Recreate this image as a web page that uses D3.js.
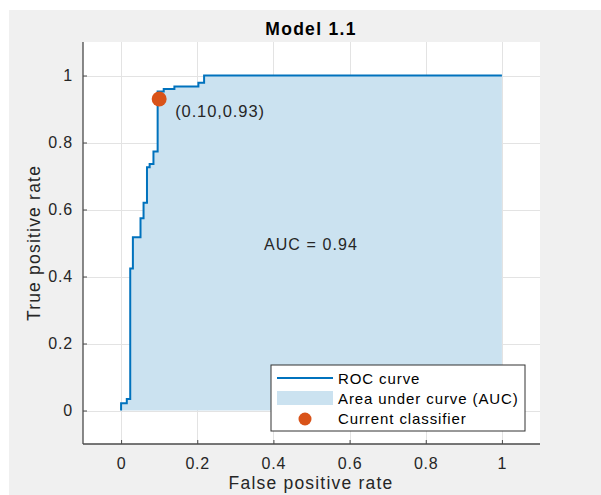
<!DOCTYPE html>
<html>
<head>
<meta charset="utf-8">
<script src="https://cdn.jsdelivr.net/npm/d3@7"></script>
<style>
  html, body { margin: 0; padding: 0; background: #ffffff; }
  svg { display: block; font-family: "Liberation Sans", Arial, Helvetica, sans-serif; }
</style>
</head>
<body>
<svg id="chart" width="601" height="495"></svg>
<script>
// ROC curve vertices (staircase), false positive rate vs true positive rate
const fpr = [0, 0, 0.015, 0.015, 0.024, 0.024, 0.031, 0.031, 0.051, 0.051, 0.059, 0.059,
             0.068, 0.068, 0.075, 0.075, 0.085, 0.085, 0.096, 0.096, 0.112, 0.112,
             0.140, 0.140, 0.203, 0.203, 0.218, 0.218, 1];
const tpr = [0, 0.022, 0.022, 0.034, 0.034, 0.424, 0.424, 0.517, 0.517, 0.574, 0.574, 0.620,
             0.620, 0.726, 0.726, 0.736, 0.736, 0.773, 0.773, 0.952, 0.952, 0.960,
             0.960, 0.967, 0.967, 0.978, 0.978, 1, 1];
const classifier = { fpr: 0.10, tpr: 0.93 };
const aucValue = 0.94;
const xTicks = [0, 0.2, 0.4, 0.6, 0.8, 1];
const yTicks = [0, 0.2, 0.4, 0.6, 0.8, 1];
const legendLabels = ["ROC curve", "Area under curve (AUC)", "Current classifier"];

const svg = d3.select("#chart");
const lineBlue = "#0072BD", fillBlue = "#cbe2f0", dotOrange = "#D95319";
const axisColor = "#4a4a4a", textColor = "#262626";

// figure background
svg.append("rect").attr("x", 9).attr("y", 10).attr("width", 592).attr("height", 485).attr("fill", "#f0f0f0");

const x = d3.scaleLinear().domain([-0.1, 1.1]).range([83, 540]);
const y = d3.scaleLinear().domain([-0.1, 1.1]).range([444, 42]);

// plot area
svg.append("rect").attr("x", x(-0.1)).attr("y", y(1.1))
  .attr("width", x(1.1) - x(-0.1)).attr("height", y(-0.1) - y(1.1)).attr("fill", "#ffffff");

// grid
const grid = svg.append("g").attr("stroke", "#e3e3e3").attr("stroke-width", 1);
xTicks.forEach(t => grid.append("line").attr("x1", Math.round(x(t)) + 0.5).attr("x2", Math.round(x(t)) + 0.5)
  .attr("y1", y(1.1)).attr("y2", y(-0.1)));
yTicks.forEach(t => grid.append("line").attr("y1", Math.round(y(t)) + 0.5).attr("y2", Math.round(y(t)) + 0.5)
  .attr("x1", x(-0.1)).attr("x2", x(1.1)));

const pts = fpr.map((f, i) => [f, tpr[i]]);

// area under curve
const area = d3.area().x(d => x(d[0])).y0(y(0)).y1(d => y(d[1]));
svg.append("path").datum(pts).attr("d", area).attr("fill", fillBlue);

// ROC curve
const line = d3.line().x(d => x(d[0])).y(d => y(d[1]));
svg.append("path").datum(pts).attr("d", line).attr("fill", "none")
  .attr("stroke", lineBlue).attr("stroke-width", 2).attr("stroke-linejoin", "miter");

// current classifier
svg.append("circle").attr("cx", x(classifier.fpr)).attr("cy", y(classifier.tpr)).attr("r", 7.5).attr("fill", dotOrange);
svg.append("text").attr("x", x(classifier.fpr) + 16).attr("y", y(classifier.tpr) + 18)
  .attr("font-size", 16.5).attr("letter-spacing", 0.9).attr("fill", textColor)
  .text(`(${classifier.fpr.toFixed(2)},${classifier.tpr.toFixed(2)})`);

svg.append("text").attr("x", x(0.375)).attr("y", y(0.48))
  .attr("font-size", 16).attr("letter-spacing", 1.1).attr("fill", textColor).text(`AUC = ${aucValue.toFixed(2)}`);

// axes (ticks pointing inward)
const xAxis = d3.axisBottom(x).tickValues(xTicks).tickSize(-4).tickPadding(14)
  .tickFormat(d => d3.format("~g")(d));
const gx = svg.append("g").attr("transform", `translate(0,${y(-0.1)})`).call(xAxis);
const yAxis = d3.axisLeft(y).tickValues(yTicks).tickSize(-4).tickPadding(10)
  .tickFormat(d => d3.format("~g")(d));
const gy = svg.append("g").attr("transform", `translate(${x(-0.1)},0)`).call(yAxis);
[gx, gy].forEach(g => {
  g.select(".domain").attr("stroke", axisColor).attr("stroke-width", 1.3);
  g.selectAll(".tick line").attr("stroke", axisColor);
  g.selectAll(".tick text").attr("fill", textColor).attr("font-size", 16).attr("letter-spacing", 0.8)
    .attr("font-family", "Liberation Sans, Arial, sans-serif");
});
gx.select(".domain").attr("d", `M${x(-0.1)},0H${x(1.1)}`);
gy.select(".domain").attr("d", `M0,${y(1.1)}V${y(-0.1)}`);

// title and axis labels
svg.append("text").attr("x", 311).attr("y", 35).attr("text-anchor", "middle")
  .attr("font-size", 17.5).attr("letter-spacing", 1.3).attr("font-weight", "bold").attr("fill", "#000").text("Model 1.1");
svg.append("text").attr("x", 311).attr("y", 489).attr("text-anchor", "middle")
  .attr("font-size", 17.5).attr("letter-spacing", 1.2).attr("fill", textColor).text("False positive rate");
svg.append("text").attr("transform", `translate(40,${y(0.5)}) rotate(-90)`).attr("text-anchor", "middle")
  .attr("font-size", 17.5).attr("letter-spacing", 1.2).attr("fill", textColor).text("True positive rate");

// legend
const lg = svg.append("g").attr("transform", "translate(271,365)");
lg.append("rect").attr("x", 0).attr("y", 0).attr("width", 254).attr("height", 66)
  .attr("fill", "#ffffff").attr("stroke", "#333333").attr("stroke-width", 1);
lg.append("line").attr("x1", 6).attr("x2", 62).attr("y1", 13).attr("y2", 13)
  .attr("stroke", lineBlue).attr("stroke-width", 2);
lg.append("rect").attr("x", 6).attr("y", 26).attr("width", 56).attr("height", 14).attr("fill", fillBlue);
lg.append("circle").attr("cx", 34).attr("cy", 54).attr("r", 6.5).attr("fill", dotOrange);
legendLabels.forEach((t, i) => lg.append("text").attr("x", 67).attr("y", 19 + i * 20)
  .attr("font-size", 15).attr("letter-spacing", 0.9).attr("fill", "#000").text(t));
</script>
</body>
</html>
